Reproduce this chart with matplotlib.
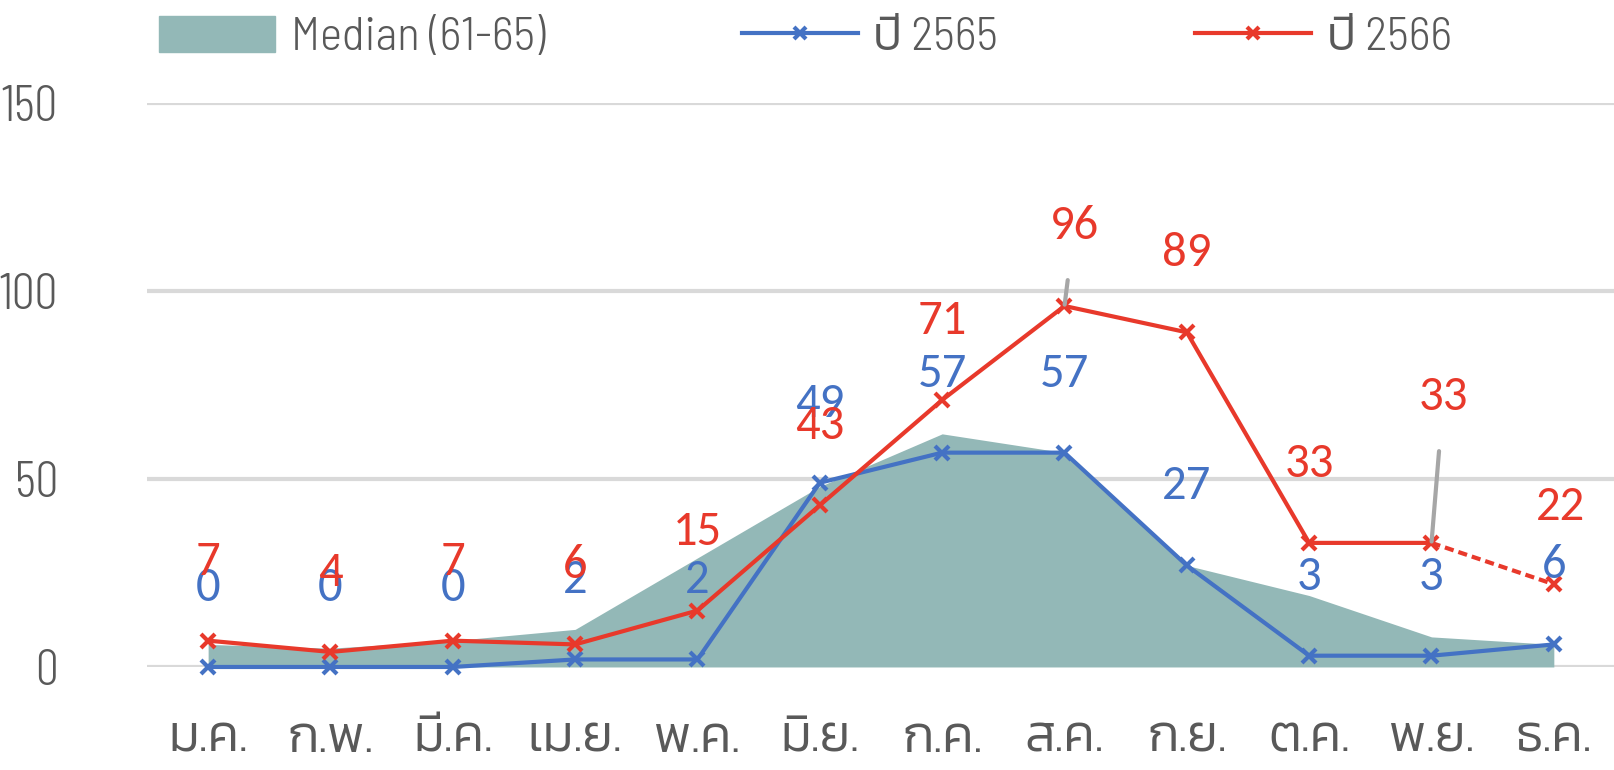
import matplotlib
matplotlib.use("Agg")
import matplotlib.pyplot as plt
from matplotlib.patches import Patch
from matplotlib.lines import Line2D

months = ["ม.ค.", "ก.พ.", "มี.ค.", "เม.ย.", "พ.ค.", "มิ.ย.",
          "ก.ค.", "ส.ค.", "ก.ย.", "ต.ค.", "พ.ย.", "ธ.ค."]
median_61_65 = [6, 5, 7, 10, 29, 48, 62, 57, 27, 19, 8, 6]
cases_2565 = [0, 0, 0, 2, 2, 49, 57, 57, 27, 3, 3, 6]
cases_2566 = [7, 4, 7, 6, 15, 43, 71, 96, 89, 33, 33, 22]
yticks = [0, 50, 100, 150]

TEAL = "#93b8b7"
BLUE = "#4472c4"
RED = "#e8392b"
GREY = "#595959"
GRID = "#d9d9d9"
THAI = ["Kanit"]
TICKS = ["Barlow Condensed", "Kanit"]
LEGEND = ["Barlow Semi Condensed", "Kanit"]
NUM = ["Carlito", "Lato"]

fig = plt.figure(figsize=(16.15, 7.7), dpi=100)
ax = fig.add_axes([0.091, 0.1338, 0.909, 0.7325])

x = list(range(len(months)))
ax.fill_between(x, median_61_65, 0, color=TEAL, lw=0, zorder=1)

ax.plot(x, cases_2565, color=BLUE, lw=3, marker="x", ms=10, mew=3,
        clip_on=False, zorder=3)
# last month of 2566 is still provisional -> dashed
ax.plot(x[:-1], cases_2566[:-1], color=RED, lw=3, marker="x", ms=10, mew=3,
        clip_on=False, zorder=4)
ax.plot(x[-2:], cases_2566[-2:], color=RED, lw=3, ls=(0, (2.2, 1.2)),
        marker="x", ms=10, mew=3, markevery=[1], clip_on=False, zorder=4)

# value labels above the points
for i, v in enumerate(cases_2565):
    ax.annotate(str(v), (i, v), xytext=(0, 79), textcoords="offset pixels",
                ha="center", va="center", color=BLUE, fontsize=35,
                family=NUM, zorder=5)

moved = {7: (10, 80), 10: (12, 146), 11: (7, 77)}
for i, v in enumerate(cases_2566):
    dx, dy = moved.get(i, (0, 79))
    arrow = None
    if i in (7, 10):
        arrow = dict(arrowstyle="-", color="#a6a6a6", lw=3,
                     shrinkA=22, shrinkB=1)
    ax.annotate(str(v), (i, v), xytext=(dx, dy), textcoords="offset pixels",
                ha="center", va="center", color=RED, fontsize=35,
                family=NUM, arrowprops=arrow, zorder=5)

ax.set_xlim(-0.5, len(months) - 0.5)
ax.set_ylim(0, 150)
ax.set_yticks(yticks)
ax.yaxis.grid(True, color=GRID, lw=3)
ax.set_axisbelow(True)
for s in ax.spines.values():
    s.set_visible(False)
ax.tick_params(axis="both", length=0, colors=GREY)
ax.tick_params(axis="y", pad=64, labelsize=37)
ax.tick_params(axis="x", pad=36, labelsize=37)
ax.set_xticks(x)
ax.set_xticklabels(months, family=THAI, fontweight=300)
for t in ax.get_yticklabels():
    t.set_family(TICKS)
    t.set_fontweight(300)

handles = [
    Patch(color=TEAL, label="Median (61-65)"),
    Line2D([], [], color=BLUE, lw=3, marker="x", ms=8, mew=3, label="ปี 2565"),
    Line2D([], [], color=RED, lw=3, marker="x", ms=8, mew=3, label="ปี 2566"),
]
leg = fig.legend(handles=handles, loc="center left",
                 bbox_to_anchor=(0.0837, 0.951), ncol=3, frameon=False,
                 borderpad=0, handlelength=2.46, handleheight=0.8,
                 handletextpad=0.33, columnspacing=4.17,
                 prop=dict(family=LEGEND, weight=300, size=34))
for t in leg.get_texts():
    t.set_color(GREY)

fig.savefig("out.png", dpi=100)
